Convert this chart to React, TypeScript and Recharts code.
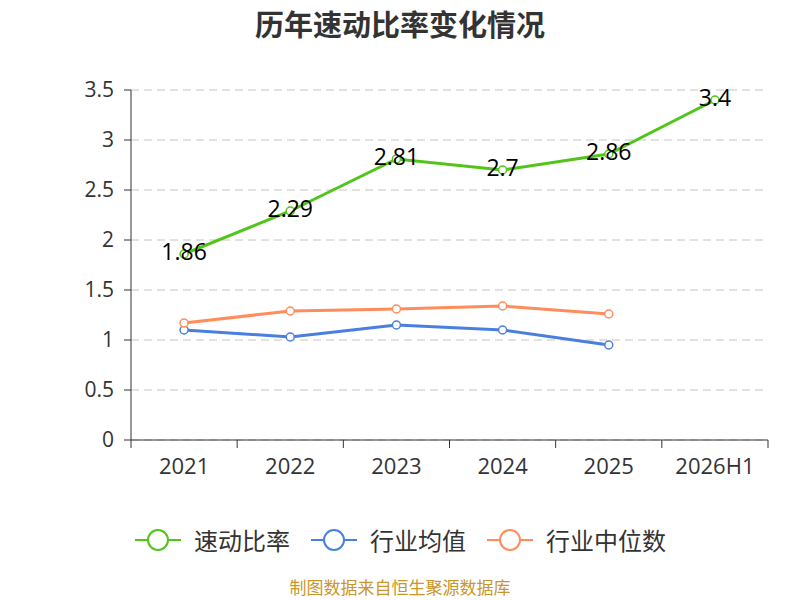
import { LineChart, Line, XAxis, YAxis, CartesianGrid, LabelList } from "recharts";

const years = ["2021", "2022", "2023", "2024", "2025", "2026H1"];
const quickRatio = [1.86, 2.29, 2.81, 2.7, 2.86, 3.4];
const industryAvg = [1.1, 1.03, 1.15, 1.1, 0.95, null];
const industryMedian = [1.17, 1.29, 1.31, 1.34, 1.26, null];
const yTicks = [0, 0.5, 1, 1.5, 2, 2.5, 3, 3.5];

const series = [
  { key: "quick", name: "速动比率", color: "#52c41a" },
  { key: "avg", name: "行业均值", color: "#4a7fe0" },
  { key: "median", name: "行业中位数", color: "#ff8c5a" },
];

const data = years.map((year, i) => ({
  year,
  quick: quickRatio[i],
  avg: industryAvg[i],
  median: industryMedian[i],
}));

const font = "'Open Sans', 'Noto Sans CJK SC', sans-serif";

const XTick = (props: any) => {
  const { x, y, payload, index } = props;
  const half = payload.offset || 53;
  return (
    <g>
      <line x1={x - half} y1={y - 8} x2={x - half} y2={y} stroke="#333" />
      {index === years.length - 1 && (
        <line x1={x + half} y1={y - 8} x2={x + half} y2={y} stroke="#333" />
      )}
      <text x={x} y={y + 26} textAnchor="middle" fill="#333" fontSize={22} fontFamily={font}>
        {payload.value}
      </text>
    </g>
  );
};

export default function App() {
  return (
    <div style={{ position: "absolute", left: 0, top: 0, width: 800, height: 600, background: "#fff" }}>
      <div
        style={{
          position: "absolute",
          top: 2,
          width: 800,
          textAlign: "center",
          fontSize: 29,
          fontWeight: "bold",
          color: "#333",
          fontFamily: "'Noto Sans CJK SC', sans-serif",
        }}
      >
        历年速动比率变化情况
      </div>
      <LineChart width={800} height={600} data={data} margin={{ top: 90, right: 32, left: 81, bottom: 130 }}>
        <CartesianGrid vertical={false} stroke="#c4c4c4" strokeDasharray="8 5" />
        <XAxis dataKey="year" scale="band" tickLine={false} stroke="#333" tick={<XTick />} interval={0} />
        <YAxis
          width={50}
          domain={[0, 3.5]}
          ticks={yTicks}
          stroke="#333"
          tickSize={7}
          tickMargin={10}
          tick={{ fill: "#333", fontSize: 21, fontFamily: font }}
        />
        {series.map((s) => (
          <Line
            key={s.key}
            dataKey={s.key}
            name={s.name}
            stroke={s.color}
            strokeWidth={3}
            dot={{ r: 4, fill: "#fff", stroke: s.color, strokeWidth: 1.5 }}
            isAnimationActive={false}
          >
            {s.key === "quick" && (
              <LabelList dataKey="quick" position="center" dy={-2} fill="#000" fontSize={23} fontFamily={font} />
            )}
          </Line>
        ))}
      </LineChart>
      <div
        style={{
          position: "absolute",
          top: 522,
          width: 800,
          display: "flex",
          justifyContent: "center",
          gap: 20,
          fontFamily: "'Noto Sans CJK SC', sans-serif",
        }}
      >
        {series.map((s) => (
          <div key={s.key} style={{ display: "flex", alignItems: "center" }}>
            <svg width={48} height={26} style={{ marginRight: 12 }}>
              <line x1={1} y1={13} x2={47} y2={13} stroke={s.color} strokeWidth={2} />
              <circle cx={24} cy={13} r={10} fill="#fff" stroke={s.color} strokeWidth={2} />
            </svg>
            <span style={{ fontSize: 24, color: "#333" }}>{s.name}</span>
          </div>
        ))}
      </div>
      <div
        style={{
          position: "absolute",
          top: 577,
          width: 800,
          textAlign: "center",
          fontSize: 17,
          lineHeight: "20px",
          color: "#c9962b",
          fontFamily: "'Noto Sans CJK SC', sans-serif",
        }}
      >
        制图数据来自恒生聚源数据库
      </div>
    </div>
  );
}
